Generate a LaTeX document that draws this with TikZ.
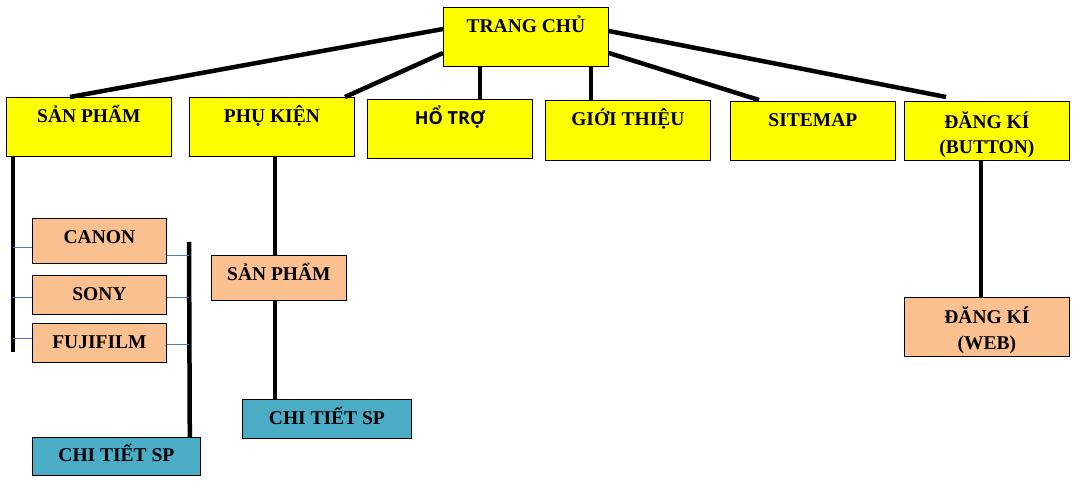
\documentclass[tikz,border=0pt]{standalone}
\usepackage{fontspec}
\setmainfont{Liberation Serif}
\newfontfamily\osans{Open Sans}
\usetikzlibrary{calc}
\definecolor{ybox}{HTML}{FFFF00}
\definecolor{pbox}{HTML}{FAC090}
\definecolor{tbox}{HTML}{4BACC6}
\definecolor{blink}{HTML}{4A7EBB}
\tikzset{
  box/.style={draw=black, line width=0.8pt, inner sep=0pt, anchor=north west,
    font=\fontsize{19.5}{25}\selectfont\bfseries, text height=25pt},
  yb/.style={box, fill=ybox},
  pb/.style={box, fill=pbox},
  tb/.style={box, fill=tbox},
  thickline/.style={line width=4.5pt, black},
  thinline/.style={line width=0.9pt, blink},
}
\newcommand{\twol}[3][0pt]{\begin{tabular}[t]{@{}c@{}}#2\\[#1]#3\end{tabular}}
\begin{document}
\begin{tikzpicture}[x=1pt,y=-1pt]
\useasboundingbox (0,0) rectangle (1075,486);
% top level
\node[yb, minimum width=165pt, minimum height=59pt, text depth=34pt] (tc) at (443,7) {TRANG CHỦ};
\node[yb, minimum width=165pt, minimum height=59pt, text depth=34pt] (sp) at (6,97) {SẢN PHẨM};
\node[yb, minimum width=165pt, minimum height=59pt, text depth=34pt] (pk) at (189,97) {PHỤ KIỆN};
\node[yb, minimum width=165pt, minimum height=59pt, text depth=34pt, font=\osans\bfseries\fontsize{18}{20}\selectfont] (ht) at (367,99) {HỔ TRỢ};
\node[yb, minimum width=165pt, minimum height=59pt, text depth=35pt] (gt) at (545,100) {GIỚI THIỆU};
\node[yb, minimum width=165pt, minimum height=59pt, text depth=34pt] (sm) at (730,101) {SITEMAP};
\node[yb, minimum width=165pt, minimum height=59pt, text height=27pt, text depth=32pt] (dk) at (904,101) {\twol{ĐĂNG KÍ}{(BUTTON)}};
% products branch
\node[pb, minimum width=134pt, minimum height=45pt, text depth=20pt] (canon) at (32,218) {CANON};
\node[pb, minimum width=134pt, minimum height=39pt, text depth=14pt] (sony) at (32,275) {SONY};
\node[pb, minimum width=134pt, minimum height=39pt, text depth=14pt] (fuji) at (32,323) {FUJIFILM};
\node[tb, minimum width=168pt, minimum height=38pt, text height=24pt, text depth=14pt] (ct1) at (32,437) {CHI TIẾT SP};
% accessories branch
\node[pb, minimum width=135pt, minimum height=45pt, text depth=20pt] (sp2) at (211,255) {SẢN PHẨM};
\node[tb, minimum width=169pt, minimum height=39pt, text depth=14pt] (ct2) at (242,399) {CHI TIẾT SP};
% register branch
\node[pb, minimum width=165pt, minimum height=59pt, text height=26pt, text depth=33pt] (dkw) at (904,297) {\twol[1pt]{ĐĂNG KÍ}{(WEB)}};
% coordinates for bars
\coordinate (spbar) at (13,352);
\coordinate (rbar) at (189,242);
% connectors from home
\draw[thickline] ([yshift=-22pt]tc.north west) -- ([xshift=64pt]sp.north west);
\draw[thickline] ([yshift=-46pt]tc.north west) -- ([xshift=156pt]pk.north west);
\draw[thickline] ([xshift=37pt]tc.south west) coordinate (a1) -- (a1 |- ht.north);
\draw[thickline] ([xshift=-18pt]tc.south east) coordinate (a2) -- (a2 |- gt.north);
\draw[thickline] ([yshift=-46pt]tc.north east) -- ([shift={(29pt,1pt)}]sm.north west);
\draw[thickline] ([yshift=-24pt]tc.north east) -- ([shift={(42pt,4pt)}]dk.north west);
% products
\draw[thickline] ([xshift=7pt]sp.south west) -- (spbar);
\draw[thinline] ([yshift=-29pt]canon.north west) coordinate (l1) -- (l1 -| spbar);
\draw[thinline] ([yshift=-22pt]sony.north west) coordinate (l2) -- (l2 -| spbar);
\draw[thinline] ([yshift=-15pt]fuji.north west) coordinate (l3) -- (l3 -| spbar);
\draw[thickline] (rbar) -- ([xshift=-11pt]ct1.north east);
\draw[thinline] ([yshift=-37pt]canon.north east) coordinate (r1) -- (r1 -| rbar);
\draw[thinline] ([yshift=-22pt]sony.north east) coordinate (r2) -- (r2 -| rbar);
\draw[thinline] ([yshift=-21pt]fuji.north east) coordinate (r3) -- (r3 -| rbar);
% accessories
\draw[thickline] ([xshift=86pt]pk.south west) -- ([xshift=64pt]sp2.north west);
\draw[thickline] ([xshift=64pt]sp2.south west) -- ([xshift=33pt]ct2.north west);
% register
\draw[thickline] ([xshift=77pt]dk.south west) -- ([xshift=77pt]dkw.north west);
\end{tikzpicture}
\end{document}
